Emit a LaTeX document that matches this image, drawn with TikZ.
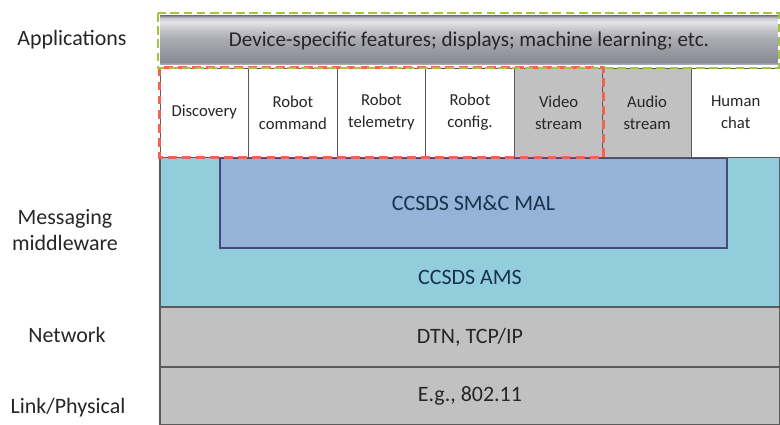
\documentclass[tikz,border=0pt]{standalone}
\usepackage{fontspec}
\setmainfont{Carlito}
\definecolor{layergray}{HTML}{C1C1C1}
\definecolor{amsblue}{HTML}{92CDDC}
\definecolor{malblue}{HTML}{95B3D7}
\definecolor{edgegray}{HTML}{5A5A5A}
\definecolor{textdark}{HTML}{262626}
\definecolor{navytext}{HTML}{17324D}
\definecolor{reddash}{HTML}{EE6650}
\definecolor{greendash}{HTML}{A2C63C}
\definecolor{metaltop}{HTML}{8C8C96}
\definecolor{metalhi}{HTML}{E4E4E8}
\definecolor{metalup}{HTML}{C8C8CE}
\definecolor{metalmid}{HTML}{ABABB3}
\definecolor{metallow}{HTML}{8A8A94}
\definecolor{metalbot}{HTML}{B9B9BE}
\pgfdeclareverticalshading{metal}{100bp}{%
color(0bp)=(metalbot); color(25bp)=(metalbot);
color(28bp)=(metallow); color(38bp)=(metallow!60!metalmid);
color(52bp)=(metalmid); color(62bp)=(metalup);
color(69bp)=(metalhi); color(73bp)=(metalup);
color(75bp)=(metaltop); color(100bp)=(metaltop)}

\begin{document}
\begin{tikzpicture}[
x = 0.02cm, y = -0.02cm,
every node/.style = {text=textdark, inner sep=0pt},
layer/.style = {draw=edgegray, line width=0.7pt, minimum width=12.4cm, font=\fontsize{12.5}{15}\selectfont},
layertext/.style = {font=\fontsize{12.5}{15}\selectfont, text=navytext},
app/.style = {draw=edgegray, line width=0.5pt, minimum width=1.771cm, minimum height=1.78cm, align=center, font=\fontsize{9.5}{12.5}\selectfont},
side/.style = {align=center, font=\fontsize{12.5}{14.5}\selectfont}
]
\useasboundingbox (0,0) rectangle (780,425);

\node[layer, fill=layergray, minimum height=1.16cm] (link) at (470,396) {E.g., 802.11};
\node[layer, fill=layergray, minimum height=1.2cm] (net) at (470,337) {DTN, TCP/IP};
\node[layer, fill=amsblue, minimum height=3cm] (ams) at (470,232) {};
\node[layertext] (amstext) at (470,277) {CCSDS AMS};
\node[layer, draw=edgegray!80!blue, fill=malblue, text=navytext, minimum width=10.14cm, minimum height=1.8cm] (mal) at (473.5,203) {CCSDS SM\&C MAL};

\node[app, fill=white] (disc) at (204.3,112.5) {Discovery};
\node[app, fill=white] (cmd) at (292.9,112.5) {Robot\\command};
\node[app, fill=white] (tlm) at (381.4,112.5) {Robot\\telemetry};
\node[app, fill=white] (cfg) at (470,112.5) {Robot\\config.};
\node[app, fill=layergray] (video) at (558.6,112.5) {Video\\stream};
\node[app, fill=layergray] (audio) at (647.1,112.5) {Audio\\stream};
\node[app, fill=white] (chat) at (735.7,112.5) {Human\\chat};
\draw[reddash, line width=2pt, dash pattern=on 5pt off 3pt] (disc.north west) rectangle (video.south east);

\node[shading=metal, minimum width=12.36cm, minimum height=0.98cm, font=\fontsize{12}{14}\selectfont] (device) at (469,40.5) {Device-specific features; displays; machine learning; etc.};
\draw[greendash, line width=1.6pt, dash pattern=on 5pt off 2.5pt] (158,13) rectangle (779,68);

\node[side] (apps) at (72,40) {Applications};
\node[side] (mw) at (65,230) {Messaging\\middleware};
\node[side] (netl) at (67,335) {Network};
\node[side] (phy) at (68,408) {Link/Physical};
\end{tikzpicture}
\end{document}
